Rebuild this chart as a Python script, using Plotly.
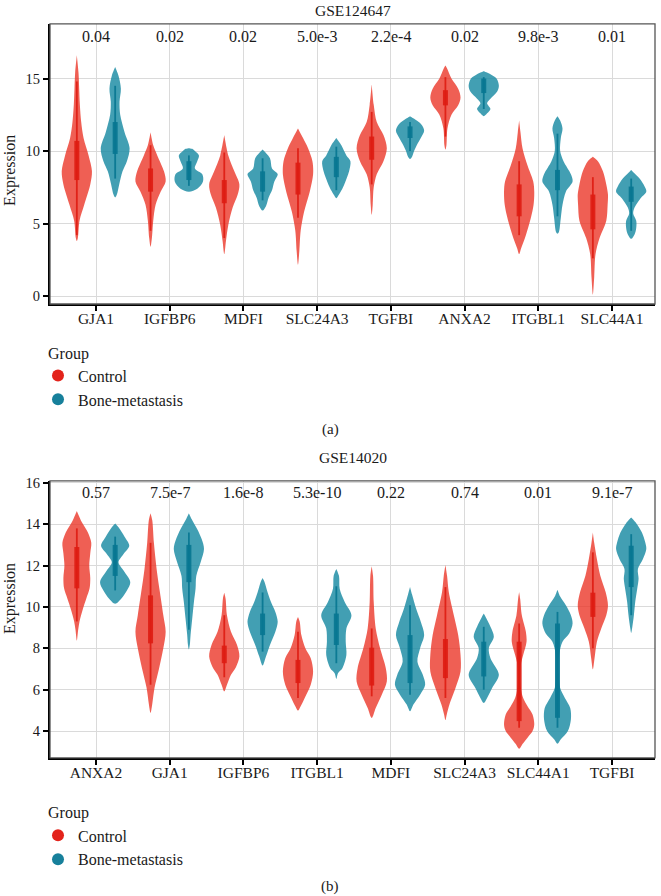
import plotly.graph_objects as go

# ---------------- data ----------------
GENES_A = ["GJA1", "IGFBP6", "MDFI", "SLC24A3", "TGFBI", "ANXA2", "ITGBL1", "SLC44A1"]
PVALS_A = ["0.04", "0.02", "0.02", "5.0e-3", "2.2e-4", "0.02", "9.8e-3", "0.01"]
GENES_B = ["ANXA2", "GJA1", "IGFBP6", "ITGBL1", "MDFI", "SLC24A3", "SLC44A1", "TGFBI"]
PVALS_B = ["0.57", "7.5e-7", "1.6e-8", "5.3e-10", "0.22", "0.74", "0.01", "9.1e-7"]
GROUPS = ["Control", "Bone-metastasis"]

# violin outlines: [expression, relative density width (0-45)]
A_CTRL_SHAPE = [
    [[3.8, 0], [4.0, 3], [5.2, 8], [6.3, 22], [7.7, 40], [8.6, 45], [9.7, 35], [10.9, 20], [12.0, 13], [13.2, 9], [14.3, 7], [15.4, 5], [16.6, 0]],
    [[3.4, 0], [4.0, 4], [5.2, 8], [6.3, 15], [7.2, 30], [7.9, 45], [8.6, 40], [9.7, 20], [10.4, 8], [11.3, 0]],
    [[2.9, 0], [3.8, 5], [4.9, 12], [6.1, 25], [7.0, 40], [7.7, 45], [8.6, 30], [9.7, 12], [11.1, 0]],
    [[2.15, 0], [3.1, 4], [4.5, 8], [5.8, 18], [7.2, 35], [8.4, 45], [9.3, 43], [10.2, 30], [10.9, 15], [11.55, 0]],
    [[5.6, 0], [6.3, 3], [7.5, 6], [8.4, 15], [9.3, 35], [10.2, 45], [11.1, 35], [12.0, 15], [13.2, 6], [14.6, 0]],
    [[10.1, 0], [10.4, 3], [11.55, 6], [12.5, 18], [13.15, 38], [13.7, 45], [14.3, 38], [15.0, 18], [15.7, 5], [15.9, 0]],
    [[2.9, 0], [3.3, 6], [4.2, 20], [5.4, 35], [6.3, 43], [7.2, 45], [7.9, 42], [9.0, 25], [10.2, 10], [11.3, 4], [12.1, 0]],
    [[0.1, 0], [1.3, 4], [2.9, 8], [4.0, 20], [5.2, 40], [6.3, 44], [7.0, 45], [7.7, 40], [8.6, 30], [9.3, 15], [9.6, 0]],
]
A_CASE_SHAPE = [
    [[6.8, 0], [7.0, 5], [7.7, 12], [8.6, 22], [9.3, 35], [10.2, 43], [11.3, 28], [12.5, 15], [13.4, 13], [14.3, 17], [15.2, 10], [15.8, 0]],
    [[7.2, 0], [7.4, 25], [7.9, 42], [8.4, 40], [8.8, 18], [9.3, 25], [9.7, 30], [10.0, 18], [10.15, 10], [10.2, 0]],
    [[5.9, 0], [6.2, 10], [6.8, 18], [7.3, 28], [7.9, 35], [8.4, 45], [8.8, 28], [9.5, 22], [10.1, 0]],
    [[6.75, 0], [7.0, 8], [7.5, 20], [8.2, 32], [8.6, 38], [9.3, 42], [9.7, 30], [10.4, 15], [10.9, 0]],
    [[9.45, 0], [9.6, 6], [10.0, 12], [10.4, 20], [10.9, 32], [11.4, 42], [11.8, 35], [12.1, 20], [12.4, 0]],
    [[12.4, 0], [12.6, 10], [12.9, 20], [13.3, 10], [13.6, 20], [14.1, 40], [14.5, 45], [15.0, 38], [15.3, 20], [15.5, 0]],
    [[4.3, 0], [4.4, 4], [5.4, 10], [6.3, 15], [7.2, 25], [7.9, 45], [8.4, 40], [9.3, 18], [10.0, 8], [10.9, 10], [11.55, 15], [12.1, 8], [12.4, 0]],
    [[3.95, 0], [4.25, 10], [4.7, 15], [5.2, 15], [5.7, 6], [6.1, 10], [6.75, 28], [7.2, 45], [7.55, 40], [8.1, 25], [8.5, 8], [8.7, 0]],
]
A_CTRL_BOX = [[8.0, 10.7], [7.2, 8.8], [6.4, 8.0], [7.0, 9.2], [9.4, 11.0], [13.15, 14.2], [5.5, 7.7], [4.6, 7.0]]
A_CTRL_WHISKER = [[4.2, 14.8], [4.5, 10.4], [4.0, 9.9], [5.4, 10.2], [7.7, 12.7], [11.0, 15.1], [4.2, 9.3], [2.6, 8.2]]
A_CASE_BOX = [[9.8, 12.0], [8.0, 9.3], [7.2, 8.6], [8.2, 9.6], [10.9, 11.7], [14.0, 15.0], [7.3, 8.7], [6.5, 7.55]]
A_CASE_WHISKER = [[8.1, 14.5], [7.6, 9.7], [6.6, 9.5], [7.3, 10.3], [10.0, 12.0], [12.9, 15.1], [5.5, 11.2], [4.5, 8.1]]

B_CTRL_SHAPE = [
    [[8.37, 0], [8.9, 4], [9.3, 8], [9.9, 18], [10.4, 28], [10.9, 38], [11.4, 40], [12.0, 37], [12.6, 40], [13.1, 43], [13.6, 33], [14.1, 15], [14.45, 5], [14.64, 0]],
    [[4.88, 0], [5.3, 5], [6.1, 12], [7.0, 25], [8.0, 38], [8.8, 45], [9.6, 38], [10.7, 28], [11.84, 18], [13.1, 10], [14.2, 5], [14.53, 0]],
    [[5.92, 0], [6.24, 8], [6.72, 20], [7.1, 35], [7.6, 45], [8.16, 38], [8.8, 20], [9.6, 8], [10.4, 4], [10.69, 0]],
    [[4.99, 0], [5.2, 8], [5.6, 20], [6.24, 38], [6.88, 45], [7.52, 38], [8.0, 22], [8.64, 10], [9.3, 5], [9.52, 0]],
    [[4.64, 0], [5.12, 12], [5.76, 30], [6.4, 45], [7.04, 42], [8.0, 25], [8.96, 12], [10.24, 6], [11.5, 4], [11.97, 0]],
    [[4.53, 0], [4.8, 4], [5.28, 12], [6.08, 30], [6.88, 45], [7.68, 45], [8.64, 38], [9.6, 25], [10.72, 10], [11.5, 5], [12.03, 0]],
    [[3.14, 0], [3.37, 10], [3.68, 25], [4.0, 40], [4.32, 45], [4.8, 40], [5.2, 25], [5.6, 12], [6.08, 5], [6.72, 4], [7.3, 6], [7.68, 12], [8.32, 22], [8.8, 20], [9.6, 8], [10.4, 3], [10.72, 0]],
    [[6.99, 0], [7.52, 5], [8.32, 12], [8.96, 25], [9.6, 40], [10.08, 45], [10.72, 38], [11.52, 22], [12.32, 12], [13.1, 4], [13.6, 0]],
]
B_CASE_SHAPE = [
    [[10.16, 0], [10.4, 18], [10.8, 35], [11.2, 45], [11.76, 25], [12.16, 10], [12.56, 25], [12.96, 42], [13.4, 28], [13.85, 10], [14.03, 0]],
    [[7.95, 0], [8.2, 3], [8.64, 5], [9.44, 10], [10.24, 15], [10.9, 20], [11.5, 22], [12.16, 35], [12.8, 45], [13.28, 38], [13.76, 25], [14.25, 8], [14.53, 0]],
    [[7.17, 0], [7.6, 10], [8.16, 22], [8.8, 38], [9.28, 45], [9.76, 38], [10.24, 25], [10.7, 15], [11.2, 6], [11.4, 0]],
    [[6.53, 0], [6.8, 5], [7.04, 18], [7.68, 30], [8.32, 28], [8.96, 30], [9.6, 45], [10.24, 25], [10.88, 10], [11.5, 8], [11.84, 0]],
    [[4.96, 0], [5.28, 10], [5.76, 30], [6.24, 45], [6.72, 38], [7.36, 22], [8.0, 30], [8.64, 42], [9.28, 32], [9.92, 18], [10.6, 6], [10.96, 0]],
    [[5.36, 0], [5.6, 10], [6.08, 25], [6.72, 45], [7.52, 20], [8.0, 15], [8.56, 30], [9.04, 20], [9.5, 6], [9.68, 0]],
    [[3.38, 0], [3.6, 10], [4.0, 31], [4.56, 40], [5.12, 38], [5.6, 22], [6.08, 8], [6.72, 4], [7.68, 5], [8.32, 15], [8.72, 35], [9.2, 45], [9.6, 40], [10.08, 25], [10.5, 8], [10.83, 0]],
    [[8.75, 0], [9.0, 3], [9.6, 8], [10.24, 12], [10.88, 18], [11.36, 22], [11.84, 20], [12.32, 35], [12.8, 45], [13.12, 42], [13.6, 32], [14.05, 15], [14.32, 0]],
]
B_CTRL_BOX = [[10.9, 12.9], [8.24, 10.56], [7.28, 8.13], [6.32, 7.44], [6.2, 8.03], [6.56, 8.45], [4.48, 8.32], [9.52, 10.69]]
B_CTRL_WHISKER = [[9.3, 13.8], [6.24, 13.1], [6.6, 9.6], [5.6, 8.8], [5.68, 8.96], [5.6, 10.96], [4.16, 9.2], [8.0, 12.64]]
B_CASE_BOX = [[11.5, 13.0], [11.2, 13.0], [8.64, 9.68], [8.16, 9.68], [6.32, 8.64], [6.64, 8.32], [4.64, 9.2], [10.96, 12.96]]
B_CASE_WHISKER = [[10.8, 13.4], [8.9, 13.6], [7.84, 10.7], [7.28, 11.0], [5.76, 10.08], [6.0, 9.04], [4.16, 9.76], [9.6, 13.52]]

# ---------------- styling ----------------
W, H = 661, 896
FONT = "Liberation Serif, Times New Roman, serif"
RED_FILL = "rgba(234,50,36,0.78)"
RED_BOX = "rgba(222,28,18,0.9)"
TEAL_FILL = "rgba(24,138,162,0.82)"
TEAL_BOX = "rgba(8,118,145,0.92)"
RED_LEG = "#E3231B"
TEAL_LEG = "#17809B"
OFFSET = 0.26
HALF = 0.205

PX_L, PX_R = 50, 655
A_TOP, A_BOT = 18, 300
B_TOP, B_BOT = 478, 757


def py(px):
    return 1 - px / H


def px_x(px):
    return px / W


fig = go.Figure()


def add_violin(center, pts, fill, xa, ya):
    ys = [p[0] for p in pts]
    ws = [p[1] / 45.0 * HALF for p in pts]
    x = [center + w for w in ws] + [center - w for w in reversed(ws)]
    y = ys + ys[::-1]
    fig.add_trace(go.Scatter(x=x, y=y, mode="lines", fill="toself", fillcolor=fill,
                             line=dict(width=0, shape="spline", smoothing=0.9, color=fill),
                             hoverinfo="skip", showlegend=False, xaxis=xa, yaxis=ya))


def add_box(center, box, whisk, color, xa, ya):
    fig.add_trace(go.Scatter(x=[center, center], y=whisk, mode="lines",
                             line=dict(width=1.8, color=color), hoverinfo="skip",
                             showlegend=False, xaxis=xa, yaxis=ya))
    fig.add_trace(go.Scatter(x=[center, center], y=box, mode="lines",
                             line=dict(width=5, color=color), hoverinfo="skip",
                             showlegend=False, xaxis=xa, yaxis=ya))


panels = [
    ("x", "y", A_CTRL_SHAPE, A_CASE_SHAPE, A_CTRL_BOX, A_CTRL_WHISKER, A_CASE_BOX, A_CASE_WHISKER),
    ("x2", "y2", B_CTRL_SHAPE, B_CASE_SHAPE, B_CTRL_BOX, B_CTRL_WHISKER, B_CASE_BOX, B_CASE_WHISKER),
]
for xa, ya, cs, bs, cb, cw, bb, bw in panels:
    for i in range(8):
        c = i + 1
        add_violin(c - OFFSET, cs[i], RED_FILL, xa, ya)
        add_box(c - OFFSET, cb[i], cw[i], RED_BOX, xa, ya)
        add_violin(c + OFFSET, bs[i], TEAL_FILL, xa, ya)
        add_box(c + OFFSET, bb[i], bw[i], TEAL_BOX, xa, ya)

# legend entries
for leg in ["legend", "legend2"]:
    for name, col in zip(GROUPS, [RED_LEG, TEAL_LEG]):
        fig.add_trace(go.Scatter(x=[None], y=[None], mode="markers", name=name,
                                 marker=dict(size=14, color=col, symbol="circle"),
                                 legend=leg, showlegend=True))

xr = [0.376, 8.583]
common_x = dict(range=xr, tickmode="array", tickvals=list(range(1, 9)),
                showgrid=True, gridcolor="#dadada", gridwidth=1.2, zeroline=False,
                showline=True, linecolor="black", linewidth=2, ticks="outside",
                ticklen=5, tickwidth=1.5, tickcolor="black", ticklabelstandoff=-6,
                tickfont=dict(family=FONT, size=15.5, color="#1a1a1a"))
common_y = dict(showgrid=True, gridcolor="#dadada", gridwidth=1.2, zeroline=False,
                showline=True, linecolor="black", linewidth=2, ticks="outside",
                ticklen=5, tickwidth=1.5, tickcolor="black",
                tickfont=dict(family=FONT, size=14.5, color="#1a1a1a"))

leg_common = dict(xanchor="left", yanchor="top",
                  title=dict(text="\u00a0\u00a0Group", font=dict(family=FONT, size=16)),
                  font=dict(family=FONT, size=16), bgcolor="rgba(0,0,0,0)",
                  itemsizing="constant", tracegroupgap=0)

dom_x = [px_x(PX_L), px_x(PX_R)]
fig.update_layout(
    width=W, height=H, margin=dict(l=0, r=0, t=0, b=0),
    paper_bgcolor="white", plot_bgcolor="white",
    font=dict(family=FONT, color="#1a1a1a"),
    xaxis=dict(domain=dom_x, anchor="y", ticktext=GENES_A, **common_x),
    yaxis=dict(domain=[py(A_BOT), py(A_TOP)], anchor="x", range=[-0.548, 18.77],
               tickvals=[0, 5, 10, 15], **common_y),
    xaxis2=dict(domain=dom_x, anchor="y2", ticktext=GENES_B, **common_x),
    yaxis2=dict(domain=[py(B_BOT), py(B_TOP)], anchor="x2", range=[2.70, 16.10],
                tickvals=[4, 6, 8, 10, 12, 14, 16], **common_y),
    legend=dict(x=px_x(38), y=py(334), **leg_common),
    legend2=dict(x=px_x(38), y=py(797), **leg_common),
)

# frame (top/right border)
for xa, ya in [("x", "y"), ("x2", "y2")]:
    fig.add_shape(type="rect", xref=f"{xa} domain", yref=f"{ya} domain",
                  x0=0, x1=1, y0=0, y1=1, line=dict(color="#555555", width=1.3),
                  layer="above")

ann = []


def note(text, x, y, xref="paper", size=16, **kw):
    ann.append(dict(text=text, x=x, y=y, xref=xref, yref="paper", showarrow=False,
                    xanchor="center", yanchor="middle",
                    font=dict(family=FONT, size=size, color="#1a1a1a"), **kw))


note("GSE124647", (PX_L + PX_R) / 2 / W, py(5), size=15.5)
note("GSE14020", (PX_L + PX_R) / 2 / W, py(455), size=15.5)
for i, p in enumerate(PVALS_A):
    note(p, i + 1, py(31), xref="x")
for i, p in enumerate(PVALS_B):
    note(p, i + 1, py(490), xref="x2")
note("Expression", 10 / W, py(166), textangle=-90)
note("Expression", 10 / W, py(597), textangle=-90)
note("(a)", 330 / W, py(426), size=15)
note("(b)", 330 / W, py(886), size=15)
fig.update_layout(annotations=ann)

fig.write_html("out.html", config={"displayModeBar": False},
               post_script="document.body.style.margin='0';document.body.style.overflow='hidden';")
